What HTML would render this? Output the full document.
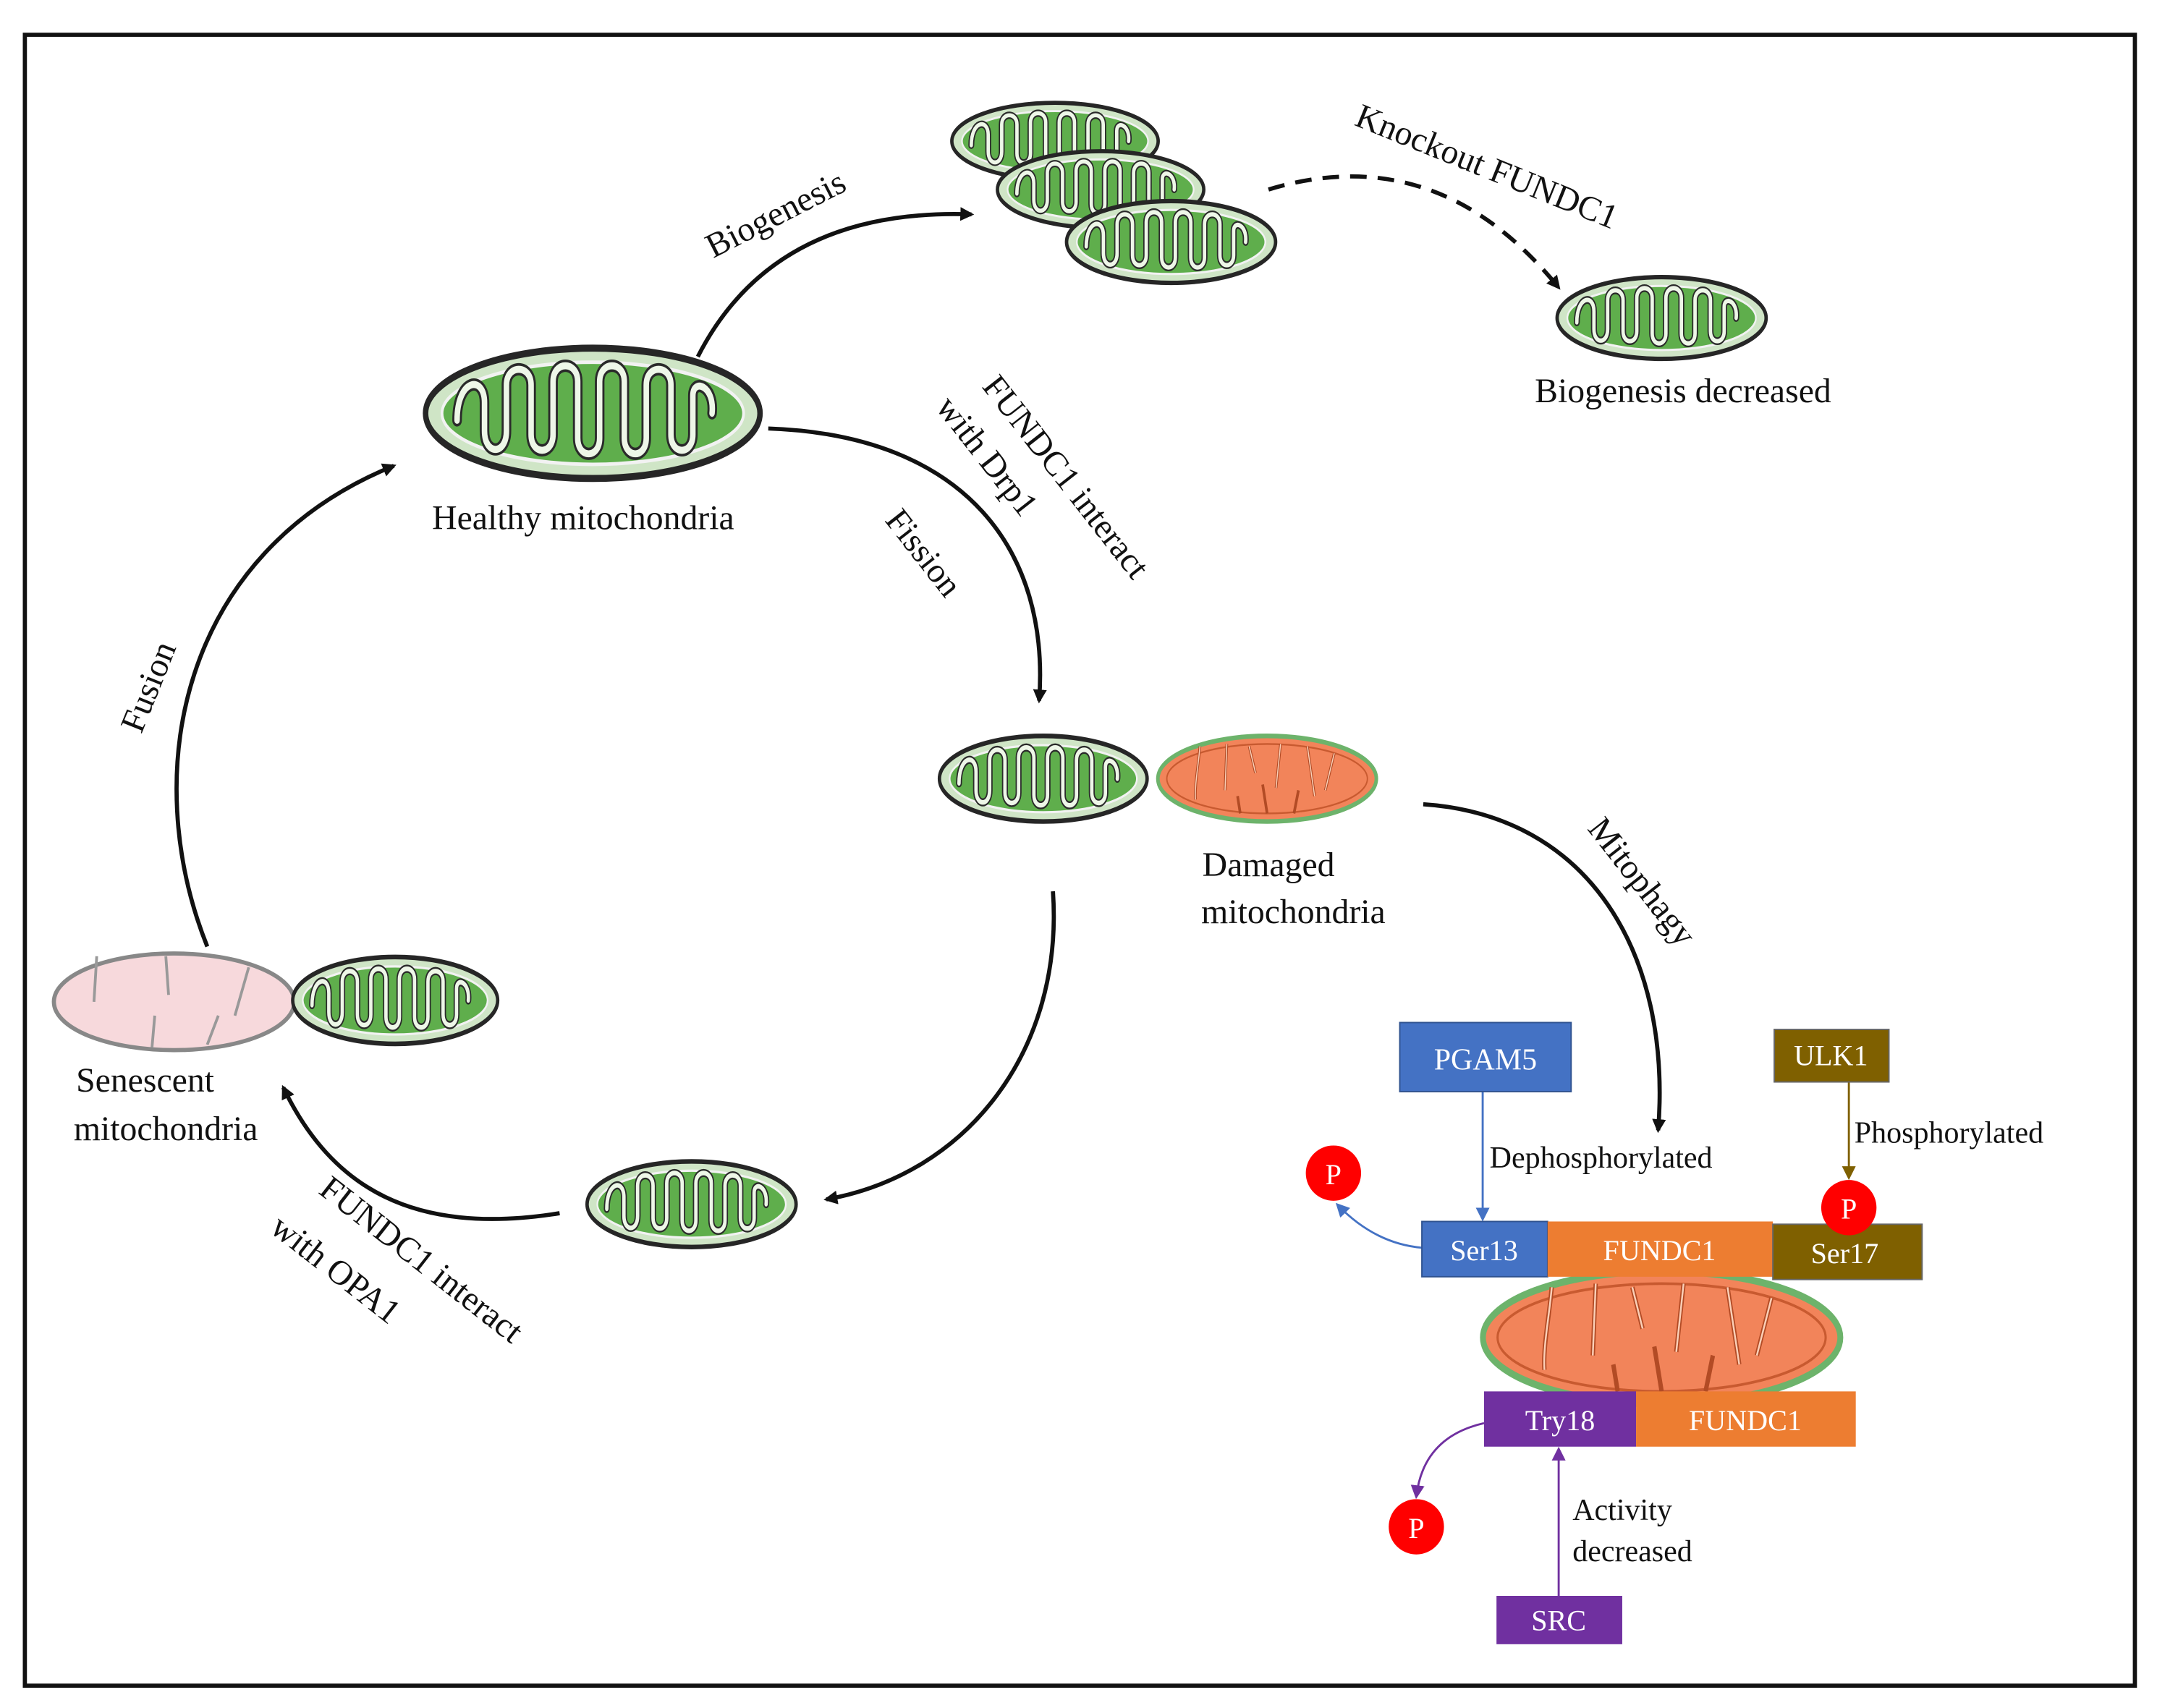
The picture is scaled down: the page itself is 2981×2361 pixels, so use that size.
<!DOCTYPE html>
<html><head><meta charset="utf-8"><style>
html,body{margin:0;padding:0;background:#fff}
svg{display:block}
text{font-family:"Liberation Serif",serif;fill:#111}
</style></head><body>
<svg width="2981" height="2361" viewBox="0 0 1561 1236" xmlns="http://www.w3.org/2000/svg">
<defs>
<symbol id="gm" viewBox="0 0 250 80" preserveAspectRatio="none">
<ellipse cx="125" cy="40" rx="122" ry="37" fill="#cfe5c6" stroke="#262626" stroke-width="4"/>
<ellipse cx="125" cy="40" rx="110" ry="29" fill="#5fae4c" stroke="#f2f2f2" stroke-width="2"/>
<g fill="none" stroke-linecap="round" stroke-linejoin="round">
<path d="M26,44 C26,20 46,18 46,34 L46,50 C46,64 62,64 62,50 L62,24 C62,12 80,12 80,24 L80,52 C80,64 96,64 96,52 L96,22 C96,10 114,10 114,22 L114,54 C114,66 130,66 130,54 L130,22 C130,10 148,10 148,22 L148,54 C148,66 164,66 164,54 L164,24 C164,12 182,12 182,24 L182,52 C182,64 198,64 198,52 L198,30 C198,20 214,24 212,40" stroke="#2a2a2a" stroke-width="7"/>
<path d="M26,44 C26,20 46,18 46,34 L46,50 C46,64 62,64 62,50 L62,24 C62,12 80,12 80,24 L80,52 C80,64 96,64 96,52 L96,22 C96,10 114,10 114,22 L114,54 C114,66 130,66 130,54 L130,22 C130,10 148,10 148,22 L148,54 C148,66 164,66 164,54 L164,24 C164,12 182,12 182,24 L182,52 C182,64 198,64 198,52 L198,30 C198,20 214,24 212,40" stroke="#eef7e8" stroke-width="4"/>
</g>
</symbol>
<symbol id="om" viewBox="0 0 250 80" preserveAspectRatio="none">
<ellipse cx="125" cy="40" rx="122" ry="37" fill="#f2845a" stroke="#6db36b" stroke-width="4"/>
<ellipse cx="125" cy="40" rx="112" ry="30" fill="none" stroke="#c85a30" stroke-width="1.5"/>
<path d="M50,12 C48,30 44,45 45,58 M80,10 L78,50 M105,12 L112,35 M140,10 L135,48 M170,12 L178,55 M200,18 L190,50 M125,70 L120,45 M95,70 L92,55 M155,70 L160,50" stroke="#b24b25" stroke-width="3" fill="none"/>
<path d="M50,12 C48,30 44,45 45,58 M80,10 L78,50 M105,12 L112,35 M140,10 L135,48 M170,12 L178,55 M200,18 L190,50" stroke="#fbd0b8" stroke-width="1.2" fill="none"/>
</symbol>
<marker id="ah" markerWidth="10" markerHeight="10" refX="8" refY="5" orient="auto" markerUnits="userSpaceOnUse"><path d="M0,0 L10,5 L0,10 z" fill="#111"/></marker>
<marker id="ab" markerWidth="10" markerHeight="10" refX="8" refY="5" orient="auto" markerUnits="userSpaceOnUse"><path d="M0,0 L10,5 L0,10 z" fill="#4472c4"/></marker>
<marker id="abr" markerWidth="10" markerHeight="10" refX="8" refY="5" orient="auto" markerUnits="userSpaceOnUse"><path d="M0,0 L10,5 L0,10 z" fill="#7f6000"/></marker>
<marker id="ap" markerWidth="10" markerHeight="10" refX="8" refY="5" orient="auto" markerUnits="userSpaceOnUse"><path d="M0,0 L10,5 L0,10 z" fill="#7030a0"/></marker>
</defs>
<rect x="18" y="25" width="1527" height="1195" fill="none" stroke="#111" stroke-width="3"/>

<use href="#gm" x="305" y="248" width="248" height="102"/>
<use href="#gm" x="687" y="72" width="153" height="60"/>
<use href="#gm" x="720" y="107" width="153" height="60"/>
<use href="#gm" x="770" y="143" width="155" height="64"/>
<use href="#gm" x="1125" y="198" width="155" height="64"/>
<use href="#gm" x="678" y="530" width="154" height="67"/>
<use href="#om" x="836" y="530" width="162" height="67"/>
<ellipse cx="126" cy="725" rx="87" ry="35" fill="#f7d9dc" stroke="#888" stroke-width="3"/>
<path d="M70,692 L68,725 M120,692 L122,720 M110,758 L112,735 M180,700 L170,735 M150,756 L158,735" stroke="#999" stroke-width="2" fill="none"/>
<use href="#gm" x="210" y="690" width="152" height="68"/>
<use href="#gm" x="423" y="838" width="155" height="67"/>
<use href="#om" x="1070" y="916" width="265" height="104"/>

<text x="422" y="383" font-size="25" text-anchor="middle">Healthy mitochondria</text>
<text x="1218" y="291" font-size="25" text-anchor="middle">Biogenesis decreased</text>
<text x="918" y="634" font-size="25" text-anchor="middle">Damaged</text>
<text x="936" y="668" font-size="25" text-anchor="middle">mitochondria</text>
<text x="105" y="790" font-size="25" text-anchor="middle">Senescent</text>
<text x="120" y="825" font-size="25" text-anchor="middle">mitochondria</text>

<path d="M505,258 Q560,150 703,155" fill="none" stroke="#111" stroke-width="3" marker-end="url(#ah)"/>
<path d="M918,137 Q1040,100 1128,208" fill="none" stroke="#111" stroke-width="3" stroke-dasharray="12,8" marker-end="url(#ah)"/>
<path d="M556,310 C700,315 760,400 752,507" fill="none" stroke="#111" stroke-width="3" marker-end="url(#ah)"/>
<path d="M1030,582 C1150,590 1210,690 1200,818" fill="none" stroke="#111" stroke-width="3" marker-end="url(#ah)"/>
<path d="M762,645 C770,760 700,850 598,868" fill="none" stroke="#111" stroke-width="3" marker-end="url(#ah)"/>
<path d="M405,878 C300,895 240,860 205,787" fill="none" stroke="#111" stroke-width="3" marker-end="url(#ah)"/>
<path d="M150,685 C100,560 130,400 285,337" fill="none" stroke="#111" stroke-width="3" marker-end="url(#ah)"/>

<text transform="translate(565,162) rotate(-27)" font-size="25" text-anchor="middle">Biogenesis</text>
<text transform="translate(1073,128) rotate(22)" font-size="25" text-anchor="middle">Knockout FUNDC1</text>
<text transform="translate(765,350) rotate(52)" font-size="25" text-anchor="middle">FUNDC1 interact</text>
<text transform="translate(708,335) rotate(52)" font-size="25" text-anchor="middle">with Drp1</text>
<text transform="translate(662,405) rotate(52)" font-size="25" text-anchor="middle">Fission</text>
<text transform="translate(1182,643) rotate(52)" font-size="25" text-anchor="middle">Mitophagy</text>
<text transform="translate(115,500) rotate(-68)" font-size="25" text-anchor="middle">Fusion</text>
<text transform="translate(300,918) rotate(38)" font-size="25" text-anchor="middle">FUNDC1 interact</text>
<text transform="translate(238,925) rotate(38)" font-size="25" text-anchor="middle">with OPA1</text>

<line x1="1073" y1="790" x2="1073" y2="882" stroke="#4472c4" stroke-width="1.5" marker-end="url(#ab)"/>
<line x1="1338" y1="783" x2="1338" y2="852" stroke="#7f6000" stroke-width="1.5" marker-end="url(#abr)"/>
<line x1="1128" y1="1155" x2="1128" y2="1049" stroke="#7030a0" stroke-width="1.5" marker-end="url(#ap)"/>
<path d="M1029,903 Q995,900 968,872" fill="none" stroke="#4472c4" stroke-width="1.5" marker-end="url(#ab)"/>
<path d="M1074,1030 Q1030,1040 1025,1083" fill="none" stroke="#7030a0" stroke-width="1.5" marker-end="url(#ap)"/>

<rect x="1013" y="740" width="124" height="50" fill="#4472c4" stroke="#2f528f" stroke-width="1"/>
<text x="1075" y="774" font-size="22" text-anchor="middle" style="fill:#fff">PGAM5</text>
<rect x="1284" y="745" width="83" height="38" fill="#7f6000" stroke="#666" stroke-width="1"/>
<text x="1325" y="771" font-size="21" text-anchor="middle" style="fill:#fff">ULK1</text>
<rect x="1029" y="884" width="91" height="40" fill="#4472c4" stroke="#2f528f"/>
<text x="1074" y="912" font-size="21" text-anchor="middle" style="fill:#fff">Ser13</text>
<rect x="1120" y="884" width="163" height="40" fill="#ed7d31"/>
<text x="1201" y="912" font-size="21" text-anchor="middle" style="fill:#fff">FUNDC1</text>
<rect x="1283" y="886" width="108" height="40" fill="#7f6000" stroke="#666"/>
<text x="1335" y="914" font-size="21" text-anchor="middle" style="fill:#fff">Ser17</text>
<rect x="1074" y="1007" width="110" height="40" fill="#7030a0"/>
<text x="1129" y="1035" font-size="21" text-anchor="middle" style="fill:#fff">Try18</text>
<rect x="1184" y="1007" width="159" height="40" fill="#ed7d31"/>
<text x="1263" y="1035" font-size="21" text-anchor="middle" style="fill:#fff">FUNDC1</text>
<rect x="1083" y="1155" width="91" height="35" fill="#7030a0"/>
<text x="1128" y="1180" font-size="21" text-anchor="middle" style="fill:#fff">SRC</text>

<circle cx="965" cy="849" r="20" fill="#f00"/>
<text x="965" y="857" font-size="21" text-anchor="middle" style="fill:#fff">P</text>
<circle cx="1338" cy="874" r="20" fill="#f00"/>
<text x="1338" y="882" font-size="21" text-anchor="middle" style="fill:#fff">P</text>
<circle cx="1025" cy="1105" r="20" fill="#f00"/>
<text x="1025" y="1113" font-size="21" text-anchor="middle" style="fill:#fff">P</text>

<text x="1078" y="845" font-size="22">Dephosphorylated</text>
<text x="1342" y="827" font-size="22">Phosphorylated</text>
<text x="1138" y="1100" font-size="22">Activity</text>
<text x="1138" y="1130" font-size="22">decreased</text>
</svg>
</body></html>
